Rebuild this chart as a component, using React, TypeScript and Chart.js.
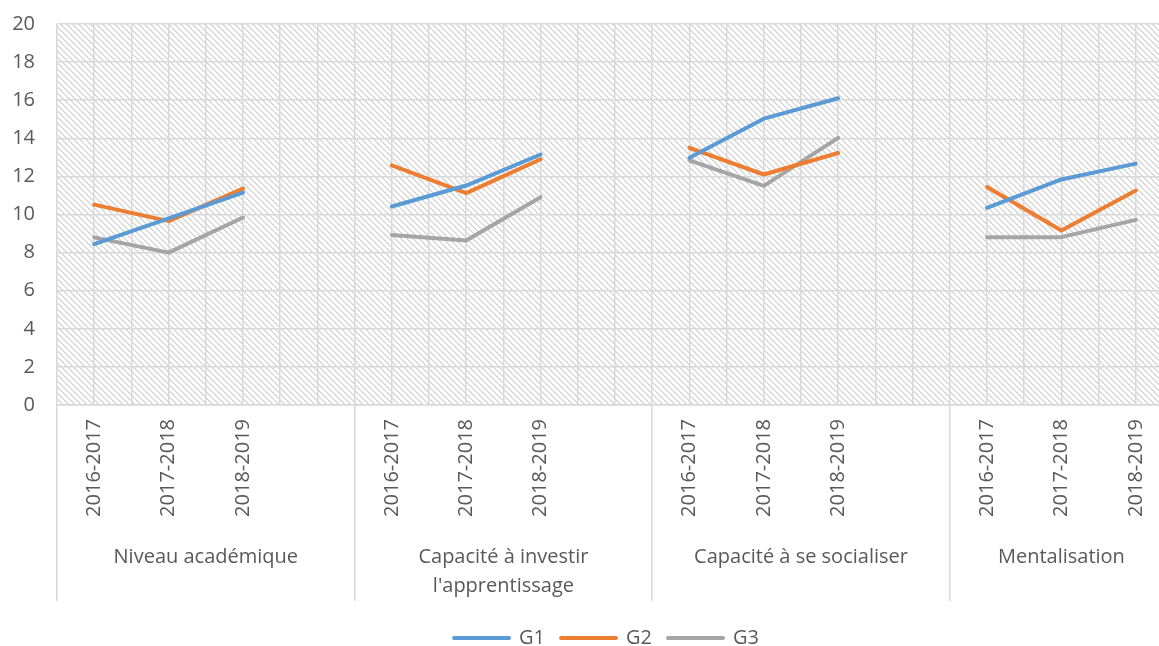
import React, { useEffect, useRef } from 'react';
import { Chart, registerables } from 'chart.js';

Chart.register(...registerables);

// ---- data ----
const groupLabels: (string | string[])[] = [
  'Niveau académique',
  ['Capacité à investir', "l'apprentissage"],
  'Capacité à se socialiser',
  'Mentalisation',
];
const yearLabels = ['2016-2017', '2017-2018', '2018-2019'];
// number of category slots per group (years + empty spacer slot)
const groupSlots = [4, 4, 4, 3];

const g1 = [8.45, 9.8, 11.15, null, 10.42, 11.52, 13.15, null, 12.98, 15.03, 16.1, null, 10.35, 11.84, 12.67];
const g2 = [10.52, 9.65, 11.36, null, 12.58, 11.12, 12.9, null, 13.5, 12.1, 13.23, null, 11.44, 9.16, 11.26];
const g3 = [8.8, 8.0, 9.84, null, 8.93, 8.63, 10.91, null, 12.84, 11.5, 14.02, null, 8.81, 8.81, 9.72];

const seriesNames = ['G1', 'G2', 'G3'];
const seriesColors = ['#5B9BD5', '#ED7D31', '#A5A5A5'];

const yMin = 0;
const yMax = 20;
const yStep = 2;

// ---- derived structure ----
const categories: string[] = [];
const groupCenters: number[] = [];
const groupBounds: number[] = [-0.5];
{
  let idx = 0;
  groupSlots.forEach((n) => {
    for (let k = 0; k < n; k++) categories.push(k < yearLabels.length ? yearLabels[k] : '');
    groupCenters.push(idx + (n - 1) / 2);
    idx += n;
    groupBounds.push(idx - 0.5);
  });
}
const xMin = -0.5;
const xMax = categories.length - 0.5;
const halfSteps: number[] = [];
for (let v = xMin; v <= xMax + 1e-9; v += 0.5) halfSteps.push(v);

const TEXT = '#595959';
const GRID = '#d9d9d9';
const FONT = "'Open Sans', 'Noto Sans', sans-serif";

const hatchPlugin = {
  id: 'hatch',
  beforeDraw(chart: any) {
    const { ctx, chartArea } = chart;
    if (!chartArea) return;
    const n = 6;
    const pc = document.createElement('canvas');
    pc.width = n;
    pc.height = n;
    const p = pc.getContext('2d')!;
    p.fillStyle = '#ffffff';
    p.fillRect(0, 0, n, n);
    for (let i = 0; i < n; i++) {
      p.fillStyle = '#d2d2d2';
      p.fillRect(i, i, 1, 1);
      p.fillStyle = '#e2e2e2';
      p.fillRect((i + 1) % n, i, 1, 1);
    }
    const pat = ctx.createPattern(pc, 'repeat');
    ctx.save();
    ctx.fillStyle = pat;
    ctx.fillRect(chartArea.left, chartArea.top, chartArea.right - chartArea.left, chartArea.bottom - chartArea.top);
    ctx.restore();
  },
};

const legendShift = {
  id: 'legendShift',
  afterLayout(chart: any) {
    const lg = chart.legend;
    if (!lg) return;
    const dx = 20;
    lg.left += dx;
    lg.right += dx;
    if (lg.legendHitBoxes) lg.legendHitBoxes.forEach((b: any) => (b.left += dx));
  },
};

export default function App() {
  const ref = useRef<HTMLCanvasElement>(null);

  useEffect(() => {
    if (!ref.current) return;
    Chart.defaults.font.family = FONT;
    Chart.defaults.color = TEXT;
    const data = [g1, g2, g3];
    const chart = new Chart(ref.current, {
      type: 'line',
      data: {
        labels: categories,
        datasets: seriesNames.map((name, i) => ({
          label: name,
          data: data[i],
          borderColor: seriesColors[i],
          backgroundColor: seriesColors[i],
          borderWidth: 4,
          pointRadius: 0,
          pointHoverRadius: 0,
          tension: 0,
          spanGaps: false,
          borderJoinStyle: 'round' as const,
          borderCapStyle: 'round' as const,
          xAxisID: 'x',
          yAxisID: 'y',
        })),
      },
      options: {
        responsive: false,
        animation: false,
        layout: { padding: { top: 24, right: 7, left: 0, bottom: 0 } },
        plugins: {
          legend: {
            position: 'bottom',
            labels: {
              boxWidth: 55,
              boxHeight: 0,
              padding: 16,
              color: TEXT,
              font: { size: 20, family: FONT },
            },
          },
          tooltip: { enabled: false },
        },
        scales: {
          y: {
            type: 'linear',
            min: yMin,
            max: yMax,
            ticks: { stepSize: yStep, padding: 22, color: TEXT, font: { size: 20, family: FONT } },
            grid: { color: GRID, lineWidth: 1.5, drawTicks: false },
            border: { display: false },
            afterFit: (s: any) => {
              s.width = 57;
              s.paddingTop = 0;
              s.paddingBottom = 0;
            },
          },
          xgrid: {
            type: 'linear',
            position: 'bottom',
            weight: -2,
            min: xMin,
            max: xMax,
            ticks: { display: false },
            grid: { color: GRID, lineWidth: 1.5, drawTicks: false },
            border: { display: false },
            afterBuildTicks: (s: any) => {
              s.ticks = halfSteps.map((v) => ({ value: v }));
            },
            afterFit: (s: any) => {
              s.height = 0;
              s.paddingLeft = 0;
              s.paddingRight = 0;
            },
          },
          xsep: {
            type: 'linear',
            position: 'bottom',
            weight: -1,
            min: xMin,
            max: xMax,
            ticks: { display: false },
            grid: { drawOnChartArea: false, drawTicks: true, tickLength: 196, color: GRID, lineWidth: 1.5 },
            border: { display: false },
            afterBuildTicks: (s: any) => {
              s.ticks = groupBounds.map((v) => ({ value: v }));
            },
            afterFit: (s: any) => {
              s.height = 0;
              s.paddingLeft = 0;
              s.paddingRight = 0;
            },
          },
          x: {
            type: 'category',
            position: 'bottom',
            weight: 0,
            offset: true,
            grid: { display: false, drawTicks: false },
            border: { display: true, color: GRID, width: 1.5 },
            ticks: {
              autoSkip: false,
              minRotation: 90,
              maxRotation: 90,
              padding: 14,
              color: TEXT,
              font: { size: 20, family: FONT },
            },
            afterFit: (s: any) => {
              s.height = 131;
              s.paddingLeft = 0;
              s.paddingRight = 0;
            },
          },
          xg: {
            type: 'linear',
            position: 'bottom',
            weight: 1,
            min: xMin,
            max: xMax,
            grid: { display: false, drawTicks: false },
            border: { display: false },
            ticks: {
              autoSkip: false,
              maxRotation: 0,
              minRotation: 0,
              padding: 7,
              color: TEXT,
              font: { size: 20, family: FONT, lineHeight: 1.45 },
              callback: (_v: any, i: number) => groupLabels[i] as any,
            },
            afterBuildTicks: (s: any) => {
              s.ticks = groupCenters.map((v) => ({ value: v }));
            },
            afterFit: (s: any) => {
              s.height = 76;
              s.paddingLeft = 0;
              s.paddingRight = 0;
            },
          },
        },
      } as any,
      plugins: [hatchPlugin, legendShift],
    });
    return () => chart.destroy();
  }, []);

  return (
    <div
      style={{
        position: 'absolute',
        left: 0,
        top: 0,
        width: 1159,
        height: 646,
        overflow: 'hidden',
        background: '#ffffff',
      }}
    >
      <canvas ref={ref} width={1180} height={658} style={{ display: 'block', width: 1180, height: 658 }} />
    </div>
  );
}
